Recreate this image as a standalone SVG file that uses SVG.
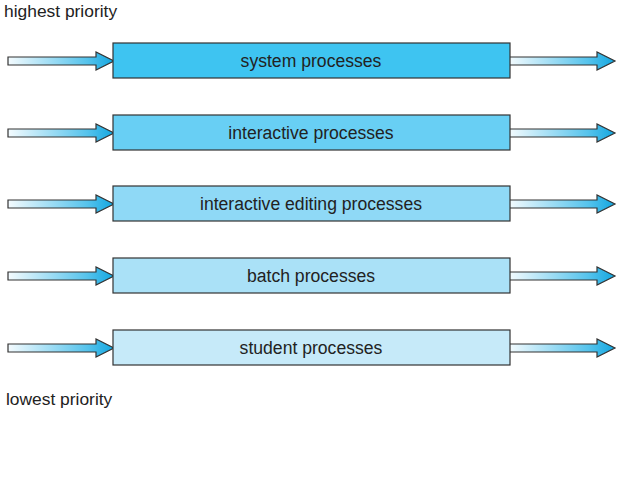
<svg xmlns="http://www.w3.org/2000/svg" width="620" height="495" viewBox="0 0 620 495">
<defs>
<linearGradient id="ag" x1="0" y1="0" x2="1" y2="0">
<stop offset="0" stop-color="#f4fbfe"/>
<stop offset="0.75" stop-color="#55c3ec"/>
<stop offset="1" stop-color="#12a6e0"/>
</linearGradient>
<path id="arr" d="M0,-4 L88,-4 L88,-9 L106,0 L88,9 L88,4 L0,4 Z"/>
</defs>
<style>
.box{stroke:#333;stroke-width:1.2}
.arrow{fill:url(#ag);stroke:#333;stroke-width:1.2;stroke-linejoin:miter}
.lbl{font-family:"Liberation Sans",Arial,sans-serif;font-size:17.6px;fill:#222;text-anchor:middle}
.cap{font-family:"Liberation Sans",Arial,sans-serif;font-size:17.4px;fill:#222}
</style>
<rect width="620" height="495" fill="#fff"/>
<text class="cap" x="4" y="17">highest priority</text>
<text class="cap" x="6" y="405">lowest priority</text>
<g id="connectors">
<use href="#arr" class="arrow" x="8" y="61"/>
<use href="#arr" class="arrow" x="509" y="61"/>
<use href="#arr" class="arrow" x="8" y="133"/>
<use href="#arr" class="arrow" x="509" y="133"/>
<use href="#arr" class="arrow" x="8" y="204"/>
<use href="#arr" class="arrow" x="509" y="204"/>
<use href="#arr" class="arrow" x="8" y="276"/>
<use href="#arr" class="arrow" x="509" y="276"/>
<use href="#arr" class="arrow" x="8" y="348"/>
<use href="#arr" class="arrow" x="509" y="348"/>
</g>
<g id="system">
<rect class="box" x="113" y="43" width="397" height="35" fill="#3ec4f1"/>
<text class="lbl" x="311" y="67">system processes</text>
</g>
<g id="interactive">
<rect class="box" x="113" y="115" width="397" height="35" fill="#68cff4"/>
<text class="lbl" x="311" y="139">interactive processes</text>
</g>
<g id="editing">
<rect class="box" x="113" y="186" width="397" height="35" fill="#8fd9f6"/>
<text class="lbl" x="311" y="210">interactive editing processes</text>
</g>
<g id="batch">
<rect class="box" x="113" y="258" width="397" height="35" fill="#aae1f7"/>
<text class="lbl" x="311" y="282">batch processes</text>
</g>
<g id="student">
<rect class="box" x="113" y="330" width="397" height="35" fill="#c6eaf9"/>
<text class="lbl" x="311" y="354">student processes</text>
</g>
</svg>
